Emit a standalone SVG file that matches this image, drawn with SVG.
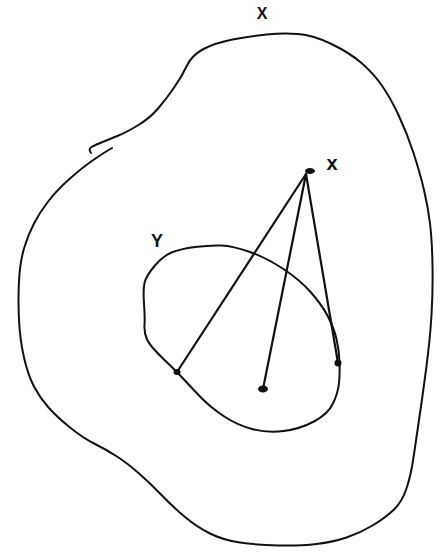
<svg xmlns="http://www.w3.org/2000/svg" width="448" height="552" viewBox="0 0 448 552">
<style>
.curve{fill:none;stroke:#111111;stroke-width:2;stroke-linecap:round;stroke-linejoin:round}
.line{fill:none;stroke:#111111;stroke-width:2.2;stroke-linecap:round}
.dot{fill:#111111}
.lbl{font-family:"Liberation Sans",Arial,sans-serif;font-weight:bold;fill:#111111;text-anchor:middle}
</style>
<rect width="448" height="552" fill="#ffffff"/>
<g id="set-X">
<path class="curve" d="M91,153 Q88,149 91.5,147 Q95,145 102.5,142 Q110,139 118.5,135.5 Q127,132 138.5,125 Q150,118 158.5,108 Q167,98 174.5,87 Q182,76 187,65.5 Q192,55 203.5,49 Q215,43 232.5,39.5 Q250,36 266.5,34.5 Q283,33 298,34 Q313,35 331.5,44 Q350,53 361.5,63 Q373,73 381.5,85 Q390,97 398.5,115 Q407,133 413.5,153 Q420,173 424,190 Q428,207 430,223.5 Q432,240 432.5,265 Q433,290 431.5,315 Q430,340 426,370 Q422,400 419,420 Q416,440 413.5,457.5 Q411,475 406.5,488.5 Q402,502 393.5,510 Q385,518 372.5,525.5 Q360,533 346.5,537.5 Q333,542 316.5,544 Q300,546 278.5,545.5 Q257,545 240,542.5 Q223,540 210,533.5 Q197,527 185,517 Q173,507 161.5,495 Q150,483 138.5,473 Q127,463 117,456.5 Q107,450 95,444 Q83,438 70,427.5 Q57,417 48.5,407.5 Q40,398 34,386.5 Q28,375 24,357.5 Q20,340 19,320 Q18,300 19,281 Q20,262 24,248.5 Q28,235 34,223.5 Q40,212 48.5,201 Q57,190 70,178.5 Q83,167 94,159.5 Q105,152 112,148"/>
<text class="lbl" x="262" y="19" font-size="16">X</text>
</g>
<g id="set-Y">
<path class="curve" d="M195,247 Q210,245 221.5,245.5 Q233,246 250,252 Q267,258 283.5,269 Q300,280 311,292.5 Q322,305 328,316.5 Q334,328 336.5,339 Q339,350 339.5,361.5 Q340,373 339,383 Q338,393 333,403.5 Q328,414 314,421.5 Q300,429 283.5,431 Q267,433 252,429 Q237,425 223.5,416 Q210,407 200,396.5 Q190,386 183.5,379 Q177,372 163.5,359 Q150,346 147,339.5 Q144,333 144.5,325 Q145,317 144,303.5 Q143,290 144.5,283 Q146,276 154.5,266 Q163,256 171.5,252.5 Q180,249 195,247 Z"/>
<text class="lbl" x="157" y="247" font-size="18">Y</text>
</g>
<g id="connectors">
<line class="line" x1="306" y1="174" x2="177" y2="372"/>
<line class="line" x1="306" y1="174" x2="263" y2="389"/>
<line class="line" x1="306" y1="174" x2="338" y2="363"/>
</g>
<g id="point-x">
<ellipse class="dot" cx="310" cy="171" rx="5" ry="3"/>
<text class="lbl" x="332" y="170" font-size="20">x</text>
</g>
<g id="point-a"><ellipse class="dot" cx="177" cy="372" rx="3.5" ry="3"/></g>
<g id="point-b"><ellipse class="dot" cx="263" cy="389" rx="5" ry="3.5"/></g>
<g id="point-c"><ellipse class="dot" cx="338" cy="363" rx="3.5" ry="3.5"/></g>
</svg>
